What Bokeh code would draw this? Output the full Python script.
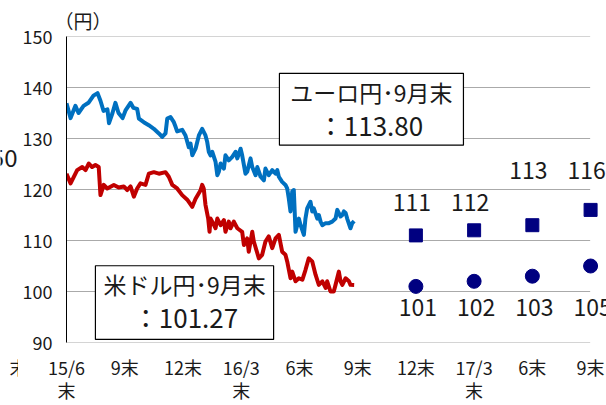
from bokeh.plotting import figure
from bokeh.layouts import row
from bokeh.models import FixedTicker, Title
from bokeh.core.properties import value
from bokeh.embed import file_html
from bokeh.resources import INLINE

FONT = "Noto Sans CJK JP"

# Time axis: months elapsed since end of June 2015
eur_t = [0.00, 0.21, 0.46, 0.62, 0.88, 1.13, 1.39, 1.60, 1.75, 1.91, 2.11, 2.19, 2.37, 2.52,
         2.68, 2.89, 3.04, 3.30, 3.45, 3.64, 3.73, 3.98, 4.24, 4.50, 4.76, 4.93, 5.10, 5.19,
         5.36, 5.53, 5.62, 5.70, 5.96, 6.13, 6.30, 6.39, 6.48, 6.65, 6.82, 6.99, 7.16, 7.25,
         7.33, 7.42, 7.51, 7.68, 7.77, 7.85, 7.94, 8.11, 8.19, 8.36, 8.54, 8.71, 8.80, 8.97,
         9.05, 9.22, 9.31, 9.48, 9.57, 9.74, 9.83, 10.00, 10.17, 10.25, 10.42, 10.60, 10.77,
         10.86, 10.94, 11.11, 11.28, 11.37, 11.45, 11.54, 11.63, 11.71, 11.80, 11.97, 12.06,
         12.23, 12.31, 12.40, 12.57, 12.66, 12.74, 12.92, 13.00, 13.09, 13.18, 13.35, 13.52,
         13.69, 13.86, 13.95, 14.12, 14.21, 14.29, 14.38, 14.46, 14.63, 14.72, 14.82]
eur_v = [136.9, 134.0, 136.4, 135.0, 136.4, 137.0, 138.4, 138.9, 137.4, 135.4, 135.7, 133.0, 135.0, 137.0,
         135.0, 134.0, 135.5, 137.0, 136.0, 135.8, 133.9, 133.2, 132.6, 131.9, 131.0, 130.3, 131.0, 133.9,
         134.2, 133.2, 132.3, 131.4, 131.7, 130.6, 128.3, 129.0, 126.7, 128.0, 130.6, 131.9, 130.6, 129.3,
         127.4, 126.7, 127.4, 125.4, 122.8, 123.5, 125.1, 124.1, 126.7, 125.7, 126.4, 127.4, 126.1, 128.0,
         126.7, 123.1, 123.5, 126.1, 124.4, 122.8, 124.4, 122.5, 121.8, 124.1, 122.8, 123.8, 123.1,
         123.8, 122.5, 121.5, 120.9, 120.2, 118.3, 115.7, 119.6, 119.9, 111.7, 114.3, 113.0,
         111.1, 114.3, 116.3, 117.6, 115.7, 116.3, 114.3, 115.0, 113.7, 113.0, 113.4, 113.4,
         113.7, 114.3, 116.0, 114.7, 115.0, 115.7, 115.4, 114.3, 112.4, 113.4, 113.80]

usd_t = [0.00, 0.21, 0.55, 0.81, 0.98, 1.15, 1.32, 1.49, 1.66, 1.75, 1.92, 2.10, 2.44, 2.69,
         2.95, 3.13, 3.30, 3.47, 3.64, 3.81, 4.07, 4.24, 4.50, 4.76, 5.10, 5.27, 5.45, 5.70,
         5.96, 6.22, 6.48, 6.65, 6.90, 6.99, 7.07, 7.16, 7.30, 7.37, 7.42, 7.51, 7.68, 7.77,
         7.94, 8.11, 8.19, 8.36, 8.45, 8.62, 8.80, 9.05, 9.14, 9.31, 9.39, 9.57, 9.65, 9.91,
         10.08, 10.25, 10.42, 10.60, 10.77, 10.94, 11.11, 11.28, 11.37, 11.54, 11.63, 11.80,
         11.97, 12.15, 12.31, 12.48, 12.66, 12.83, 13.00, 13.18, 13.35, 13.43, 13.60, 13.77,
         13.86, 14.03, 14.12, 14.21, 14.38, 14.55, 14.63, 14.82]
usd_v = [123.1, 121.2, 123.8, 124.4, 123.8, 125.1, 124.4, 124.8, 124.4, 118.9, 120.9, 120.2, 120.9, 120.4,
         120.6, 119.9, 120.6, 118.6, 120.2, 121.2, 120.9, 123.1, 123.4, 123.1, 123.4, 122.5, 120.9, 120.2,
         118.9, 118.0, 116.6, 118.2, 119.8, 120.9, 120.2, 117.0, 114.3, 111.7, 114.3, 113.7, 112.4, 114.3,
         113.0, 114.0, 111.7, 113.7, 112.4, 113.7, 112.4, 111.7, 109.1, 110.4, 107.8, 111.7, 109.8, 106.5,
         107.2, 109.8, 110.8, 108.5, 110.4, 111.1, 107.8, 107.2, 105.9, 102.6, 103.9, 102.0,
         102.6, 102.3, 104.2, 106.5, 105.9, 103.3, 101.3, 102.0, 100.7, 102.0, 100.0, 100.0,
         101.3, 103.9, 102.0, 101.3, 102.6, 102.0, 101.3, 101.27]

# Forecasts at quarter ends (12末, 17/3末, 6末, 9末)
fc_t = [18, 21, 24, 27]
fc_eur = [111, 112, 113, 116]
fc_usd = [101, 102, 103, 105]

tick_pos = [0, 3, 6, 9, 12, 15, 18, 21, 24, 27]
tick_labels = ["15/6\n末", "9末", "12末", "16/3\n末", "6末", "9末",
               "12末", "17/3\n末", "6末", "9末"]
y_ticks = [90, 100, 110, 120, 130, 140, 150]


def style_x_axis(fig):
    ax = fig.xaxis
    ax.axis_line_color = None
    ax.major_tick_line_color = None
    ax.minor_tick_line_color = None
    ax.major_tick_out = 0
    ax.major_tick_in = 0
    ax.major_label_standoff = 11
    ax.major_label_text_font = FONT
    ax.major_label_text_font_size = "18px"
    ax.major_label_text_line_height = 0.9
    ax.major_label_text_color = "#1a1a1a"


p = figure(width=588, height=405, x_range=(0, 27.82), y_range=(90, 150),
           output_backend="svg", toolbar_location=None,
           min_border_left=48, min_border_right=0, min_border_top=36, min_border_bottom=62)
p.outline_line_color = None
p.background_fill_color = "white"
p.xgrid.visible = False
p.ygrid.visible = False

# Narrow strip on the left: the clipped edge of the neighbouring panel
edge = figure(width=18, height=405, x_range=(0, 18), y_range=p.y_range,
              output_backend="svg", toolbar_location=None,
              min_border_left=0, min_border_right=0, min_border_top=36, min_border_bottom=62)
edge.yaxis.visible = False
edge.grid.visible = False
edge.outline_line_color = None
edge.xaxis.ticker = FixedTicker(ticks=[0])
edge.xaxis.major_label_overrides = {0: "末"}
style_x_axis(edge)
edge.text(x=[17], y=[126.2], text=["150"], text_font=value(FONT), text_font_size="24px",
          text_color="#1a1a1a", text_align="right", text_baseline="middle")

# unit caption above the value axis
p.add_layout(Title(text="（円）", text_font=FONT, text_font_size="19px",
                   text_font_style="normal", text_color="#1a1a1a",
                   align="left", offset=-12, standoff=6), "above")

# y axis
p.yaxis.ticker = FixedTicker(ticks=y_ticks)
p.yaxis.axis_line_color = "black"
p.yaxis.axis_line_width = 1
p.yaxis.major_tick_line_color = None
p.yaxis.minor_tick_line_color = None
p.yaxis.major_tick_out = 0
p.yaxis.major_tick_in = 0
p.yaxis.major_label_standoff = 14
p.yaxis.major_label_text_font = FONT
p.yaxis.major_label_text_font_size = "18px"
p.yaxis.major_label_text_color = "#1a1a1a"

# x axis
p.xaxis.ticker = FixedTicker(ticks=tick_pos)
p.xaxis.major_label_overrides = {t: s for t, s in zip(tick_pos, tick_labels)}
style_x_axis(p)

# dotted horizontal grid up to the last forecast quarter
p.segment(x0=[0] * len(y_ticks), x1=[fc_t[-1]] * len(y_ticks), y0=y_ticks, y1=y_ticks,
          line_color="#555555", line_width=1, line_dash="1 1")

# value boxes
p.quad(left=[10.97], right=[20.45], top=[142.77], bottom=[128.7],
       fill_color="white", line_color="black", line_width=1.2)
p.quad(left=[1.49], right=[10.67], top=[105.05], bottom=[90.6],
       fill_color="white", line_color="black", line_width=1.2)

# daily series
p.line(eur_t, eur_v, line_color="#0070C0", line_width=4, line_join="round")
p.line(usd_t, usd_v, line_color="#C00000", line_width=4, line_join="round")

# forecasts
p.scatter(fc_t, fc_eur, marker="square", size=13, fill_color="#000080", line_color="#000080")
p.scatter(fc_t, fc_usd, marker="circle", size=14, fill_color="#000080", line_color="#000080")

eur_label_y = [117.4, 117.4, 123.8, 123.8]
usd_label_y = [96.8, 96.9, 96.9, 96.9]
p.text(x=fc_t, y=eur_label_y, text=[str(v) for v in fc_eur], x_offset=-4,
       text_font=value(FONT), text_font_size="23px", text_color="#1a1a1a",
       text_align="center", text_baseline="middle")
p.text(x=fc_t, y=usd_label_y, text=[str(v) for v in fc_usd], x_offset=2,
       text_font=value(FONT), text_font_size="23px", text_color="#1a1a1a",
       text_align="center", text_baseline="middle")

# box texts
p.text(x=[15.71, 15.66], y=[139.06, 132.8], text=["ユーロ円･9月末", "：113.80"],
       text_font=value(FONT), text_font_size=["23px", "26px"], text_color="#1a1a1a",
       text_align="center", text_baseline="middle")
p.text(x=[6.08, 6.13], y=[101.53, 95.08], text=["米ドル円･9月末", "：101.27"],
       text_font=value(FONT), text_font_size=["23px", "26px"], text_color="#1a1a1a",
       text_align="center", text_baseline="middle")

layout = row(edge, p, spacing=0)
open("out.html", "w").write(file_html(layout, INLINE))
